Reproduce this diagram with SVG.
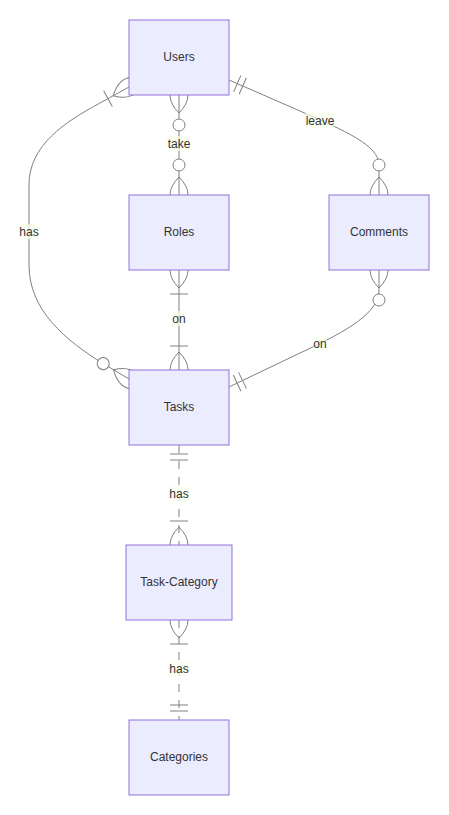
<svg xmlns="http://www.w3.org/2000/svg" width="449" height="815" viewBox="0 0 449 815">
<style>
.mk{fill:none;stroke:gray;stroke-width:1;stroke-dasharray:none}
.mkc{fill:#fff;stroke:gray;stroke-width:1}
.rel{fill:none;stroke:gray;stroke-width:1}
.dash{stroke-dasharray:8,8}
.lblbox{fill:#F9FFEC;opacity:0.7}
.lbl{font-family:"Liberation Sans",Arial,sans-serif;font-size:12px;fill:#333;text-anchor:middle}
.ent{fill:#ECECFF;stroke:#9370DB;stroke-width:1}
.etxt{font-family:"Liberation Sans",Arial,sans-serif;font-size:12px;fill:#333;text-anchor:middle}
</style>
<defs>
<marker id="zmStart" refX="18" refY="18" markerWidth="57" markerHeight="36" orient="auto" markerUnits="userSpaceOnUse" overflow="visible">
<circle class="mkc" cx="48" cy="18" r="6"/>
<path class="mk" d="M0,18 Q18,0 36,18 Q18,36 0,18"/>
</marker>
<marker id="zmEnd" refX="39" refY="18" markerWidth="57" markerHeight="36" orient="auto" markerUnits="userSpaceOnUse" overflow="visible">
<circle class="mkc" cx="9" cy="18" r="6"/>
<path class="mk" d="M21,18 Q39,0 57,18 Q39,36 21,18"/>
</marker>
<marker id="omStart" refX="18" refY="18" markerWidth="45" markerHeight="36" orient="auto" markerUnits="userSpaceOnUse" overflow="visible">
<path class="mk" d="M0,18 Q18,0 36,18 Q18,36 0,18 M42,9 L42,27"/>
</marker>
<marker id="omEnd" refX="27" refY="18" markerWidth="45" markerHeight="36" orient="auto" markerUnits="userSpaceOnUse" overflow="visible">
<path class="mk" d="M3,9 L3,27 M9,18 Q27,0 45,18 Q27,36 9,18"/>
</marker>
<marker id="ooStart" refX="0" refY="9" markerWidth="18" markerHeight="18" orient="auto" markerUnits="userSpaceOnUse" overflow="visible">
<path class="mk" d="M9,0 L9,18 M15,0 L15,18"/>
</marker>
<marker id="ooEnd" refX="18" refY="9" markerWidth="18" markerHeight="18" orient="auto" markerUnits="userSpaceOnUse" overflow="visible">
<path class="mk" d="M3,0 L3,18 M9,0 L9,18"/>
</marker>
</defs>
<g id="connectors">
<path class="rel" d="M179,95 L179,195" marker-start="url(#zmStart)" marker-end="url(#zmEnd)"/>
<path class="rel" d="M229,80 L300,111 C345,131 379,145 379,165 L379,195" marker-start="url(#ooStart)" marker-end="url(#zmEnd)"/>
<path class="rel" d="M379,270 L379,290 C379,312 350,330 300,353 L229,387" marker-start="url(#zmStart)" marker-end="url(#ooEnd)"/>
<path class="rel" d="M179,270 L179,370" marker-start="url(#omStart)" marker-end="url(#omEnd)"/>
<path class="rel" d="M129,87 L100,103 C65,122 29,145 29,185 L29,265 C29,310 65,340 103.2,363.6 L129,379" marker-start="url(#omStart)" marker-end="url(#zmEnd)"/>
<path class="rel dash" d="M179,445 L179,545" marker-start="url(#ooStart)" marker-end="url(#omEnd)"/>
<path class="rel dash" d="M179,620 L179,720" marker-start="url(#omStart)" marker-end="url(#ooEnd)"/>
<rect class="lblbox" x="167.6" y="136" width="22.7" height="15"/>
<text class="lbl" x="179" y="148">take</text>
<rect class="lblbox" x="305.6" y="113" width="28.7" height="15"/>
<text class="lbl" x="320" y="125">leave</text>
<rect class="lblbox" x="313.3" y="336" width="13.3" height="15"/>
<text class="lbl" x="320" y="348">on</text>
<rect class="lblbox" x="172.3" y="311" width="13.3" height="15"/>
<text class="lbl" x="179" y="323">on</text>
<rect class="lblbox" x="19.3" y="224" width="19.3" height="15"/>
<text class="lbl" x="29" y="236">has</text>
<rect class="lblbox" x="169.3" y="486" width="19.3" height="15"/>
<text class="lbl" x="179" y="498">has</text>
<rect class="lblbox" x="169.3" y="661" width="19.3" height="15"/>
<text class="lbl" x="179" y="673">has</text>
</g>
<g id="Users"><rect class="ent" x="129" y="20" width="100" height="75"/><text class="etxt" x="179" y="60.5">Users</text></g>
<g id="Roles"><rect class="ent" x="129" y="195" width="100" height="75"/><text class="etxt" x="179" y="235.5">Roles</text></g>
<g id="Comments"><rect class="ent" x="329" y="195" width="100" height="75"/><text class="etxt" x="379" y="235.5">Comments</text></g>
<g id="Tasks"><rect class="ent" x="129" y="370" width="100" height="75"/><text class="etxt" x="179" y="410.5">Tasks</text></g>
<g id="Task-Category"><rect class="ent" x="126" y="545" width="106" height="75"/><text class="etxt" x="179" y="585.5">Task-Category</text></g>
<g id="Categories"><rect class="ent" x="129" y="720" width="100" height="75"/><text class="etxt" x="179" y="760.5">Categories</text></g>
</svg>
